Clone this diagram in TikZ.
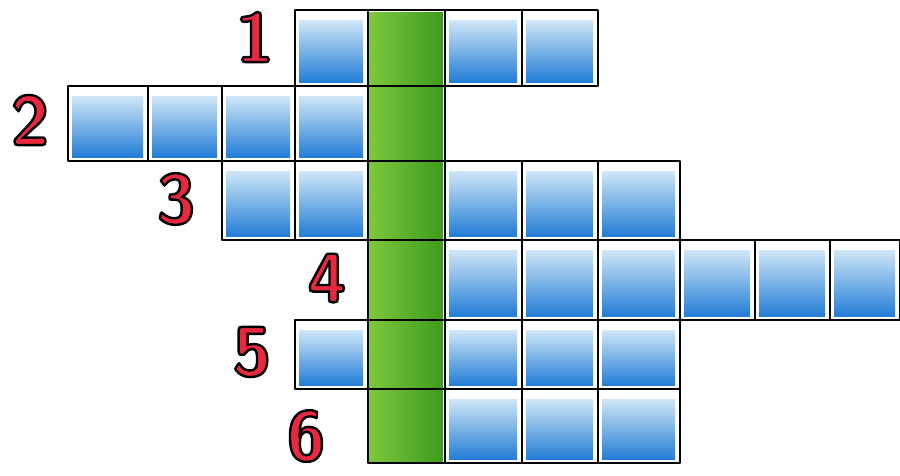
\documentclass[tikz,border=0pt]{standalone}
\usepackage{fontspec}
\usepackage{tikz}
\usetikzlibrary{positioning}

\definecolor{pencilblue}{RGB}{35,125,215}
\definecolor{paleblue}{RGB}{175,215,242}
\definecolor{leafgreen}{RGB}{125,200,60}
\definecolor{darkleaf}{RGB}{60,155,30}
\definecolor{numred}{RGB}{232,40,62}

% red digit with a black outline (fill and stroke text)
\newcommand{\outlined}[1]{\special{pdf:literal direct 2 Tr 2.4 w 0 G}#1\special{pdf:literal direct 0 Tr}}

\tikzset{
  gridline/.style={line width=2.6pt, black, line join=round},
  bluecell/.style={top color=paleblue!60!white, middle color=paleblue, bottom color=pencilblue},
  numlabel/.style={font=\sffamily\bfseries\fontsize{70}{70}\selectfont, text=numred, inner sep=0pt},
}

\begin{document}
\begin{tikzpicture}[x=1pt, y=-1pt]
  \useasboundingbox (0,0) rectangle (900,475);

  % Column and row borders
  \def\colx{{68,148,222,295,368,445,522,598,680,755,830,900}}
  \def\rowy{{10,86,161,240,320,389,463}}

  % Blue cells (row / first column / last column)
  \foreach \r/\ca/\cb in {0/3/6, 1/0/4, 2/2/7, 3/4/10, 4/3/7, 5/4/7} {
    \foreach \c in {\ca,...,\cb} {
      \pgfmathsetmacro{\xl}{\colx[\c]}
      \pgfmathsetmacro{\xr}{\colx[\c+1]}
      \pgfmathsetmacro{\yt}{\rowy[\r]}
      \pgfmathsetmacro{\yb}{\rowy[\r+1]}
      \ifnum\c=4 \else
        \shade[bluecell] (\xl+4,\yt+10) rectangle (\xr-5,\yb-4);
      \fi
    }
  }

  % Green column
  \shade[left color=leafgreen, right color=darkleaf] (369,12) rectangle (443,462);

  % Grid lines
  \foreach \r/\ca/\cb in {0/3/6, 1/0/4, 2/2/7, 3/4/10, 4/3/7, 5/4/7} {
    \foreach \c in {\ca,...,\cb} {
      \pgfmathsetmacro{\xl}{\colx[\c]}
      \pgfmathsetmacro{\xr}{\colx[\c+1]}
      \pgfmathsetmacro{\yt}{\rowy[\r]}
      \pgfmathsetmacro{\yb}{\rowy[\r+1]}
      \draw[gridline] (\xl,\yt) rectangle (\xr,\yb);
    }
  }

  % Row numbers
  \node[numlabel] (one)   at (255,37)  {\outlined{1}};
  \node[numlabel] (two)   at (30,120)  {\outlined{2}};
  \node[numlabel] (three) at (176,199) {\outlined{3}};
  \node[numlabel] (four)  at (327,278) {\outlined{4}};
  \node[numlabel] (five)  at (252,352) {\outlined{5}};
  \node[numlabel] (six)   at (306,436) {\outlined{6}};
\end{tikzpicture}
\end{document}
